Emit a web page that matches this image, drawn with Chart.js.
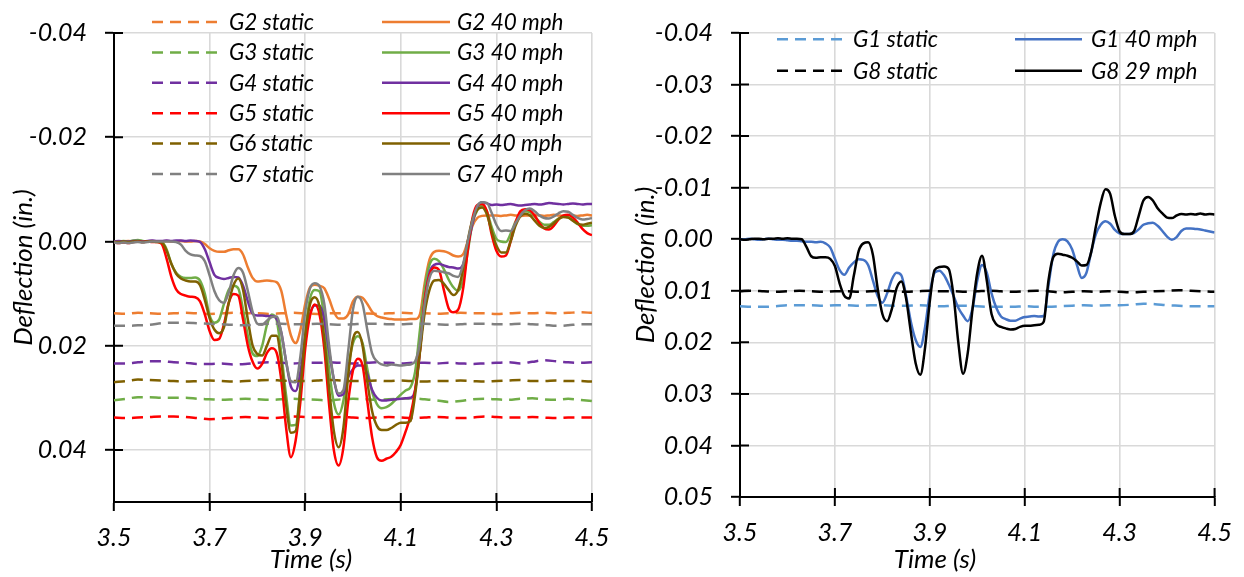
<!DOCTYPE html>
<html>
<head>
<meta charset="utf-8">
<script src="https://cdn.jsdelivr.net/npm/chart.js@4.4.1/dist/chart.umd.min.js"></script>
<style>
  html, body { margin: 0; padding: 0; background: #fff; }
  #wrap { position: relative; width: 1244px; height: 577px; }
  canvas { position: absolute; top: 0; }
  #left { left: 0; }
  #right { left: 622px; }
</style>
</head>
<body>
<div id="wrap">
  <canvas id="left" width="622" height="577"></canvas>
  <canvas id="right" width="622" height="577"></canvas>
</div>
<script>
// sample times (s) of the moving-load records, 0.01 s apart
const times = Array.from({ length: 101 }, (_, i) => +(3.5 + i * 0.01).toFixed(2));
// sample times (s) of the static records, 0.025 s apart
const staticTimes = Array.from({ length: 41 }, (_, i) => +(3.5 + i * 0.025).toFixed(3));

const xTicks = [3.5, 3.7, 3.9, 4.1, 4.3, 4.5];
const leftYTicks = [-0.04, -0.02, 0, 0.02, 0.04];
const rightYTicks = [-0.04, -0.03, -0.02, -0.01, 0, 0.01, 0.02, 0.03, 0.04, 0.05];

const leftLabels = ['G2 static', 'G2 40 mph', 'G3 static', 'G3 40 mph', 'G4 static', 'G4 40 mph',
  'G5 static', 'G5 40 mph', 'G6 static', 'G6 40 mph', 'G7 static', 'G7 40 mph'];
const rightLabels = ['G1 static', 'G1 40 mph', 'G8 static', 'G8 29 mph'];

// deflection (in.), static
const g2Static = [0.0138, 0.0139, 0.0137, 0.0138, 0.0139, 0.0138, 0.0137, 0.0138, 0.0139, 0.0138,
  0.0137, 0.0138, 0.0138, 0.0139, 0.0138, 0.0137, 0.0138, 0.0139, 0.0138, 0.0138,
  0.0137, 0.0138, 0.0139, 0.0138, 0.0137, 0.0138, 0.0138, 0.0139, 0.0138, 0.0137,
  0.0138, 0.0138, 0.0139, 0.0138, 0.0137, 0.0138, 0.0137, 0.0138, 0.0137, 0.0136, 0.0137];
const g3Static = [0.0305, 0.0302, 0.0299, 0.0299, 0.0300, 0.0300, 0.0300, 0.0302, 0.0303, 0.0304,
  0.0303, 0.0302, 0.0303, 0.0304, 0.0303, 0.0302, 0.0303, 0.0304, 0.0305, 0.0303,
  0.0302, 0.0303, 0.0304, 0.0303, 0.0302, 0.0301, 0.0303, 0.0305, 0.0308, 0.0306,
  0.0303, 0.0302, 0.0303, 0.0304, 0.0302, 0.0301, 0.0303, 0.0304, 0.0302, 0.0304, 0.0306];
const g4Static = [0.0234, 0.0234, 0.0232, 0.0230, 0.0230, 0.0232, 0.0233, 0.0235, 0.0235, 0.0234,
  0.0236, 0.0235, 0.0233, 0.0232, 0.0233, 0.0234, 0.0233, 0.0233, 0.0232, 0.0233,
  0.0234, 0.0233, 0.0232, 0.0233, 0.0234, 0.0233, 0.0233, 0.0234, 0.0233, 0.0234,
  0.0235, 0.0234, 0.0233, 0.0232, 0.0234, 0.0231, 0.0228, 0.0230, 0.0232, 0.0233, 0.0232];
const g5Static = [0.0338, 0.0339, 0.0338, 0.0337, 0.0336, 0.0336, 0.0337, 0.0339, 0.0341, 0.0340,
  0.0338, 0.0337, 0.0338, 0.0339, 0.0338, 0.0336, 0.0337, 0.0338, 0.0338, 0.0337,
  0.0338, 0.0339, 0.0338, 0.0337, 0.0338, 0.0339, 0.0338, 0.0337, 0.0338, 0.0339,
  0.0338, 0.0336, 0.0337, 0.0338, 0.0338, 0.0337, 0.0338, 0.0339, 0.0338, 0.0338, 0.0338];
const g6Static = [0.0270, 0.0268, 0.0265, 0.0266, 0.0267, 0.0268, 0.0269, 0.0268, 0.0267, 0.0268,
  0.0269, 0.0268, 0.0267, 0.0266, 0.0267, 0.0268, 0.0268, 0.0267, 0.0266, 0.0267,
  0.0268, 0.0268, 0.0267, 0.0268, 0.0267, 0.0268, 0.0269, 0.0268, 0.0268, 0.0267,
  0.0268, 0.0269, 0.0268, 0.0267, 0.0266, 0.0268, 0.0268, 0.0267, 0.0268, 0.0268, 0.0269];
const g7Static = [0.0162, 0.0162, 0.0161, 0.0160, 0.0157, 0.0156, 0.0156, 0.0157, 0.0158, 0.0159,
  0.0160, 0.0161, 0.0159, 0.0158, 0.0158, 0.0159, 0.0159, 0.0158, 0.0159, 0.0160,
  0.0159, 0.0158, 0.0158, 0.0159, 0.0159, 0.0158, 0.0158, 0.0159, 0.0160, 0.0159,
  0.0158, 0.0158, 0.0159, 0.0159, 0.0158, 0.0159, 0.0160, 0.0162, 0.0161, 0.0159, 0.0159];
const g1Static = [0.0130, 0.0131, 0.0131, 0.0130, 0.0128, 0.0128, 0.0128, 0.0129, 0.0128, 0.0128,
  0.0129, 0.0128, 0.0128, 0.0129, 0.0129, 0.0128, 0.0129, 0.0130, 0.0129, 0.0129,
  0.0130, 0.0131, 0.0131, 0.0131, 0.0130, 0.0131, 0.0131, 0.0130, 0.0129, 0.0128,
  0.0129, 0.0128, 0.0128, 0.0127, 0.0125, 0.0126, 0.0128, 0.0129, 0.0130, 0.0130, 0.0130];
const g8Static = [0.0101, 0.0100, 0.0101, 0.0102, 0.0101, 0.0100, 0.0101, 0.0102, 0.0101, 0.0101,
  0.0102, 0.0101, 0.0100, 0.0101, 0.0102, 0.0101, 0.0100, 0.0101, 0.0101, 0.0102,
  0.0101, 0.0100, 0.0101, 0.0102, 0.0101, 0.0100, 0.0101, 0.0103, 0.0102, 0.0101,
  0.0102, 0.0101, 0.0102, 0.0103, 0.0102, 0.0101, 0.0100, 0.0099, 0.0100, 0.0101, 0.0102];

// deflection (in.), moving load
const g2Dynamic = [0.0000, 0.0001, 0.0000, -0.0001, 0.0000, 0.0000, 0.0001, 0.0000, -0.0001, 0.0000,
  0.0000, -0.0001, 0.0000, 0.0000, -0.0001, 0.0000, 0.0000, -0.0001, 0.0000, 0.0005,
  0.0013, 0.0018, 0.0020, 0.0020, 0.0017, 0.0015, 0.0015, 0.0025, 0.0050, 0.0070,
  0.0077, 0.0076, 0.0075, 0.0076, 0.0078, 0.0095, 0.0140, 0.0180, 0.0195, 0.0170,
  0.0120, 0.0088, 0.0083, 0.0085, 0.0090, 0.0110, 0.0135, 0.0148, 0.0148, 0.0140,
  0.0115, 0.0106, 0.0108, 0.0120, 0.0135, 0.0143, 0.0146, 0.0148, 0.0149, 0.0150,
  0.0150, 0.0150, 0.0149, 0.0149, 0.0140, 0.0080, 0.0035, 0.0020, 0.0018, 0.0019,
  0.0022, 0.0027, 0.0029, 0.0025, 0.0000, -0.0030, -0.0045, -0.0049, -0.0050, -0.0050,
  -0.0050, -0.0049, -0.0050, -0.0051, -0.0050, -0.0049, -0.0050, -0.0050, -0.0051, -0.0050,
  -0.0049, -0.0050, -0.0051, -0.0050, -0.0049, -0.0050, -0.0050, -0.0049, -0.0050, -0.0051, -0.0050];
const g3Dynamic = [0.0000, 0.0000, -0.0001, 0.0000, -0.0002, -0.0003, -0.0001, 0.0000, 0.0000, 0.0000,
  0.0001, 0.0015, 0.0043, 0.0060, 0.0068, 0.0070, 0.0070, 0.0069, 0.0075, 0.0100,
  0.0142, 0.0156, 0.0150, 0.0120, 0.0093, 0.0085, 0.0090, 0.0131, 0.0181, 0.0215,
  0.0220, 0.0200, 0.0160, 0.0140, 0.0150, 0.0215, 0.0295, 0.0353, 0.0352, 0.0280,
  0.0175, 0.0110, 0.0093, 0.0096, 0.0150, 0.0245, 0.0310, 0.0332, 0.0305, 0.0240,
  0.0195, 0.0182, 0.0195, 0.0245, 0.0289, 0.0312, 0.0320, 0.0318, 0.0312, 0.0303,
  0.0294, 0.0286, 0.0280, 0.0250, 0.0170, 0.0090, 0.0045, 0.0033, 0.0038, 0.0053,
  0.0073, 0.0088, 0.0095, 0.0075, 0.0020, -0.0035, -0.0060, -0.0069, -0.0058, -0.0028,
  -0.0005, 0.0000, 0.0001, -0.0015, -0.0038, -0.0053, -0.0058, -0.0056, -0.0048, -0.0038,
  -0.0032, -0.0032, -0.0037, -0.0044, -0.0048, -0.0046, -0.0040, -0.0033, -0.0030, -0.0030, -0.0031];
const g4Dynamic = [0.0000, -0.0001, 0.0000, 0.0000, -0.0001, -0.0001, 0.0000, -0.0001, -0.0002, -0.0001,
  -0.0001, -0.0002, -0.0001, -0.0002, -0.0002, -0.0001, -0.0002, -0.0001, 0.0001, 0.0015,
  0.0040, 0.0064, 0.0070, 0.0072, 0.0070, 0.0068, 0.0069, 0.0085, 0.0115, 0.0139,
  0.0142, 0.0142, 0.0143, 0.0143, 0.0148, 0.0175, 0.0230, 0.0278, 0.0287, 0.0250,
  0.0185, 0.0140, 0.0123, 0.0123, 0.0150, 0.0210, 0.0265, 0.0296, 0.0293, 0.0260,
  0.0245, 0.0238, 0.0238, 0.0255, 0.0285, 0.0300, 0.0305, 0.0305, 0.0304, 0.0303,
  0.0302, 0.0301, 0.0300, 0.0285, 0.0210, 0.0115, 0.0060, 0.0045, 0.0043, 0.0046,
  0.0049, 0.0050, 0.0052, 0.0045, 0.0010, -0.0035, -0.0065, -0.0075, -0.0073, -0.0070,
  -0.0071, -0.0070, -0.0071, -0.0072, -0.0070, -0.0069, -0.0070, -0.0071, -0.0072, -0.0071,
  -0.0072, -0.0074, -0.0073, -0.0072, -0.0071, -0.0072, -0.0073, -0.0072, -0.0071, -0.0072, -0.0072];
const g5Dynamic = [0.0002, 0.0003, 0.0002, 0.0003, 0.0001, 0.0000, 0.0001, 0.0000, 0.0001, 0.0001,
  0.0005, 0.0033, 0.0068, 0.0092, 0.0101, 0.0104, 0.0106, 0.0107, 0.0115, 0.0140,
  0.0172, 0.0189, 0.0187, 0.0159, 0.0118, 0.0101, 0.0104, 0.0150, 0.0200, 0.0231,
  0.0244, 0.0235, 0.0214, 0.0205, 0.0213, 0.0266, 0.0357, 0.0414, 0.0382, 0.0307,
  0.0206, 0.0143, 0.0121, 0.0140, 0.0206, 0.0313, 0.0401, 0.0430, 0.0395, 0.0307,
  0.0247, 0.0225, 0.0238, 0.0307, 0.0376, 0.0414, 0.0421, 0.0417, 0.0413, 0.0404,
  0.0390, 0.0365, 0.0335, 0.0285, 0.0210, 0.0112, 0.0065, 0.0050, 0.0055, 0.0093,
  0.0128, 0.0136, 0.0131, 0.0093, 0.0018, -0.0045, -0.0070, -0.0072, -0.0058, -0.0014,
  0.0018, 0.0029, 0.0027, -0.0001, -0.0036, -0.0058, -0.0062, -0.0060, -0.0050, -0.0035,
  -0.0025, -0.0023, -0.0030, -0.0042, -0.0050, -0.0051, -0.0046, -0.0036, -0.0024, -0.0016, -0.0012];
const g6Dynamic = [0.0001, 0.0001, 0.0000, 0.0001, 0.0000, 0.0000, 0.0001, 0.0000, 0.0000, 0.0001,
  0.0002, 0.0018, 0.0043, 0.0062, 0.0071, 0.0075, 0.0077, 0.0077, 0.0084, 0.0112,
  0.0147, 0.0169, 0.0176, 0.0165, 0.0118, 0.0084, 0.0071, 0.0093, 0.0150, 0.0200,
  0.0216, 0.0219, 0.0200, 0.0181, 0.0181, 0.0231, 0.0313, 0.0367, 0.0364, 0.0282,
  0.0181, 0.0121, 0.0107, 0.0125, 0.0187, 0.0282, 0.0364, 0.0395, 0.0357, 0.0257,
  0.0187, 0.0174, 0.0200, 0.0269, 0.0326, 0.0354, 0.0362, 0.0362, 0.0358, 0.0352,
  0.0348, 0.0348, 0.0345, 0.0294, 0.0213, 0.0137, 0.0093, 0.0075, 0.0074, 0.0081,
  0.0093, 0.0103, 0.0093, 0.0055, -0.0001, -0.0042, -0.0061, -0.0065, -0.0052, -0.0020,
  0.0008, 0.0021, 0.0021, -0.0001, -0.0030, -0.0048, -0.0053, -0.0050, -0.0040, -0.0030,
  -0.0026, -0.0028, -0.0035, -0.0043, -0.0047, -0.0046, -0.0040, -0.0034, -0.0032, -0.0034, -0.0036];
const g7Dynamic = [0.0002, 0.0003, 0.0002, 0.0003, 0.0002, 0.0001, 0.0002, 0.0001, 0.0000, 0.0000,
  0.0000, 0.0000, 0.0000, 0.0001, 0.0006, 0.0018, 0.0025, 0.0027, 0.0028, 0.0038,
  0.0065, 0.0095, 0.0113, 0.0118, 0.0098, 0.0065, 0.0051, 0.0060, 0.0095, 0.0135,
  0.0158, 0.0160, 0.0152, 0.0145, 0.0144, 0.0175, 0.0230, 0.0268, 0.0270, 0.0220,
  0.0135, 0.0090, 0.0080, 0.0086, 0.0120, 0.0200, 0.0265, 0.0292, 0.0285, 0.0210,
  0.0130, 0.0106, 0.0120, 0.0170, 0.0215, 0.0230, 0.0236, 0.0238, 0.0236, 0.0237,
  0.0238, 0.0237, 0.0236, 0.0230, 0.0195, 0.0120, 0.0070, 0.0056, 0.0057, 0.0059,
  0.0061, 0.0066, 0.0068, 0.0045, 0.0000, -0.0040, -0.0068, -0.0075, -0.0074, -0.0055,
  -0.0032, -0.0020, -0.0021, -0.0020, -0.0035, -0.0050, -0.0060, -0.0063, -0.0058, -0.0050,
  -0.0045, -0.0044, -0.0048, -0.0054, -0.0058, -0.0057, -0.0051, -0.0045, -0.0042, -0.0043, -0.0045];
const g1Dynamic = [0.0000, 0.0000, -0.0001, 0.0000, 0.0001, 0.0000, -0.0001, 0.0000, 0.0001, 0.0001,
  0.0002, 0.0003, 0.0003, 0.0004, 0.0005, 0.0005, 0.0006, 0.0005, 0.0008, 0.0016,
  0.0038, 0.0060, 0.0069, 0.0055, 0.0045, 0.0039, 0.0040, 0.0050, 0.0080, 0.0110,
  0.0123, 0.0105, 0.0078, 0.0065, 0.0070, 0.0110, 0.0160, 0.0195, 0.0209, 0.0170,
  0.0105, 0.0065, 0.0061, 0.0070, 0.0088, 0.0110, 0.0133, 0.0148, 0.0159, 0.0134,
  0.0080, 0.0050, 0.0065, 0.0105, 0.0133, 0.0150, 0.0155, 0.0158, 0.0158, 0.0154,
  0.0151, 0.0150, 0.0149, 0.0150, 0.0149, 0.0090, 0.0030, 0.0005, 0.0000, 0.0004,
  0.0020, 0.0050, 0.0075, 0.0065, 0.0025, -0.0010, -0.0028, -0.0035, -0.0030, -0.0018,
  -0.0011, -0.0010, -0.0010, -0.0012, -0.0019, -0.0028, -0.0031, -0.0032, -0.0026, -0.0016,
  -0.0005, 0.0001, -0.0004, -0.0016, -0.0021, -0.0021, -0.0020, -0.0019, -0.0017, -0.0015, -0.0013];
const g8Dynamic = [0.0000, 0.0001, 0.0000, -0.0001, -0.0001, 0.0000, -0.0001, -0.0001, -0.0002, -0.0001,
  -0.0002, -0.0001, -0.0001, 0.0000, 0.0015, 0.0033, 0.0036, 0.0035, 0.0035, 0.0038,
  0.0052, 0.0086, 0.0110, 0.0115, 0.0070, 0.0023, 0.0008, 0.0006, 0.0030, 0.0095,
  0.0145, 0.0159, 0.0135, 0.0095, 0.0082, 0.0115, 0.0180, 0.0240, 0.0263, 0.0210,
  0.0120, 0.0060, 0.0054, 0.0053, 0.0058, 0.0110, 0.0200, 0.0261, 0.0220, 0.0135,
  0.0065, 0.0032, 0.0080, 0.0145, 0.0165, 0.0170, 0.0173, 0.0175, 0.0174, 0.0170,
  0.0168, 0.0168, 0.0167, 0.0166, 0.0160, 0.0080, 0.0035, 0.0028, 0.0030, 0.0032,
  0.0036, 0.0043, 0.0051, 0.0050, 0.0025, -0.0025, -0.0070, -0.0097, -0.0088, -0.0045,
  -0.0015, -0.0010, -0.0010, -0.0015, -0.0045, -0.0075, -0.0082, -0.0075, -0.0060, -0.0050,
  -0.0042, -0.0041, -0.0046, -0.0049, -0.0048, -0.0049, -0.0048, -0.0050, -0.0048, -0.0049, -0.0048];

const leftStatic = [g2Static, g3Static, g4Static, g5Static, g6Static, g7Static];
const leftDynamic = [g2Dynamic, g3Dynamic, g4Dynamic, g5Dynamic, g6Dynamic, g7Dynamic];
const leftColors = ['#ED7D31', '#70AD47', '#7030A0', '#FF0000', '#7F6000', '#808080'];
const rightStatic = [g1Static, g8Static];
const rightDynamic = [g1Dynamic, g8Dynamic];
const rightStaticColors = ['#5B9BD5', '#000000'];
const rightDynamicColors = ['#4472C4', '#000000'];

const FONT = 'Lato, "Open Sans", sans-serif';
const DASH = [11, 7];

function points(xs, ys) {
  return xs.map((x, i) => ({ x: x, y: ys[i] }));
}

function lineSet(label, xs, ys, color, dashed) {
  return {
    label: label,
    data: points(xs, ys),
    borderColor: color,
    backgroundColor: color,
    borderWidth: 2.5,
    borderDash: dashed ? DASH : [],
    pointRadius: 0,
    fill: false,
    cubicInterpolationMode: 'monotone'
  };
}

const leftSets = [];
leftColors.forEach((c, i) => {
  leftSets.push(lineSet(leftLabels[2 * i], staticTimes, leftStatic[i], c, true));
  leftSets.push(lineSet(leftLabels[2 * i + 1], times, leftDynamic[i], c, false));
});
const rightSets = [];
rightStaticColors.forEach((c, i) => {
  rightSets.push(lineSet(rightLabels[2 * i], staticTimes, rightStatic[i], c, true));
  rightSets.push(lineSet(rightLabels[2 * i + 1], times, rightDynamic[i], rightDynamicColors[i], false));
});
// later series are drawn on top, as in the source chart
[leftSets, rightSets].forEach(sets => sets.forEach((s, i) => { s.order = sets.length - i; }));

// legend drawn inside the plot, two columns, filled row by row
const insideLegend = {
  id: 'insideLegend',
  afterDatasetsDraw(chart, args, opts) {
    const ctx = chart.ctx;
    ctx.save();
    ctx.font = 'italic 22.5px ' + FONT;
    ctx.textBaseline = 'alphabetic';
    ctx.textAlign = 'left';
    chart.data.datasets.forEach((ds, i) => {
      const col = opts.cols[i % 2];
      const y = opts.rowY + Math.floor(i / 2) * opts.rowGap;
      ctx.strokeStyle = ds.borderColor;
      ctx.lineWidth = ds.borderWidth;
      ctx.setLineDash(ds.borderDash);
      ctx.beginPath();
      ctx.moveTo(col.lineX, y);
      ctx.lineTo(col.lineX + opts.lineLen, y);
      ctx.stroke();
      ctx.setLineDash([]);
      ctx.fillStyle = '#000';
      ctx.fillText(ds.label, col.textX, y + 7.8);
    });
    ctx.restore();
  }
};

// tick marks that cross the axis lines
const crossTicks = {
  id: 'crossTicks',
  beforeDatasetsDraw(chart) {
    const { ctx, chartArea, scales } = chart;
    ctx.save();
    ctx.strokeStyle = '#000';
    ctx.lineWidth = 2;
    ctx.beginPath();
    scales.x.ticks.forEach((t, i) => {
      const px = scales.x.getPixelForTick(i);
      ctx.moveTo(px, chartArea.bottom);
      ctx.lineTo(px, chartArea.bottom - 9);
    });
    scales.y.ticks.forEach((t, i) => {
      const py = scales.y.getPixelForTick(i);
      ctx.moveTo(chartArea.left, py);
      ctx.lineTo(chartArea.left + 9, py);
    });
    ctx.stroke();
    ctx.restore();
  }
};

// x axis title, placed off-centre like the source
const timeTitle = {
  id: 'timeTitle',
  afterDraw(chart, args, opts) {
    const ctx = chart.ctx;
    ctx.save();
    ctx.font = 'italic 26px ' + FONT;
    ctx.fillStyle = '#000';
    ctx.textAlign = 'center';
    ctx.textBaseline = 'alphabetic';
    ctx.fillText('Time (s)', opts.x, opts.y);
    ctx.restore();
  }
};

function makeChart(id, sets, yTicks, box) {
  const tickFont = { family: FONT, size: 25, style: 'italic' };
  const grid = { color: '#d9d9d9', lineWidth: 1.6, tickColor: '#000', tickWidth: 2, tickLength: 9 };
  const border = { color: '#000', width: 2 };
  return new Chart(document.getElementById(id), {
    type: 'line',
    data: { datasets: sets },
    plugins: [crossTicks, insideLegend, timeTitle],
    options: {
      responsive: false,
      animation: false,
      events: [],
      layout: { padding: { left: 0, right: box.padRight, top: 22, bottom: 0 } },
      plugins: {
        legend: { display: false },
        tooltip: { enabled: false },
        insideLegend: box.legend,
        timeTitle: box.title
      },
      scales: {
        x: {
          type: 'linear',
          min: 3.5,
          max: 4.5,
          afterBuildTicks: s => { s.ticks = xTicks.map(v => ({ value: v })); },
          afterFit: s => { s.height = box.xHeight; },
          ticks: { font: tickFont, color: '#000', padding: 12, maxRotation: 0, autoSkip: false,
            callback: v => v.toFixed(1) },
          grid: grid,
          border: border
        },
        y: {
          type: 'linear',
          reverse: true,
          min: -0.04,
          max: 0.05,
          afterBuildTicks: s => { s.ticks = yTicks.map(v => ({ value: v })); },
          afterFit: s => { s.width = box.yWidth; },
          ticks: { font: tickFont, color: '#000', padding: 18, autoSkip: false,
            callback: v => v.toFixed(2) },
          grid: grid,
          border: border,
          title: { display: true, text: 'Deflection (in.)', color: '#000',
            font: { family: FONT, size: 26, style: 'italic' }, padding: { top: 8, bottom: 0 } }
        }
      }
    }
  });
}

makeChart('left', leftSets, leftYTicks, {
  padRight: 30, xHeight: 75, yWidth: 114,
  legend: { cols: [{ lineX: 152, textX: 229 }, { lineX: 382, textX: 457 }], lineLen: 68, rowY: 22, rowGap: 30.4 },
  title: { x: 311, y: 568 }
});
makeChart('right', rightSets, rightYTicks, {
  padRight: 28, xHeight: 80, yWidth: 118,
  legend: { cols: [{ lineX: 155, textX: 231 }, { lineX: 393, textX: 469 }], lineLen: 67, rowY: 39.3, rowGap: 31.4 },
  title: { x: 313, y: 568 }
});
</script>
</body>
</html>
